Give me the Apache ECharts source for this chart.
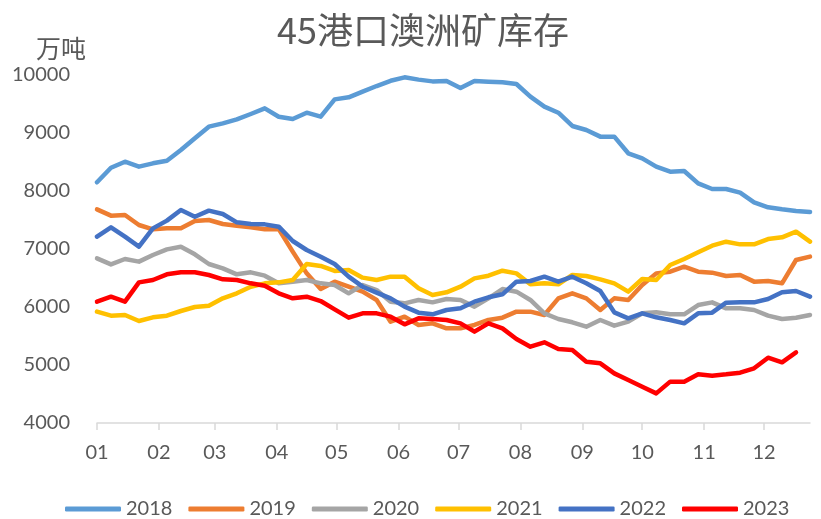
<!DOCTYPE html>
<html>
<head>
<meta charset="utf-8">
<script src="https://cdn.jsdelivr.net/npm/echarts@6/dist/echarts.min.js"></script>
<style>
html,body{margin:0;padding:0;background:#fff;}
#chart{width:821px;height:519px;}
</style>
</head>
<body>
<div id="chart"></div>
<script>
// Weekly dates (common calendar year, non-leap)
const weekDates = [
  '2001-01-01','2001-01-08','2001-01-15','2001-01-22','2001-01-29',
  '2001-02-05','2001-02-12','2001-02-19','2001-02-26',
  '2001-03-05','2001-03-12','2001-03-19','2001-03-26',
  '2001-04-02','2001-04-09','2001-04-16','2001-04-23','2001-04-30',
  '2001-05-07','2001-05-14','2001-05-21','2001-05-28',
  '2001-06-04','2001-06-11','2001-06-18','2001-06-25',
  '2001-07-02','2001-07-09','2001-07-16','2001-07-23','2001-07-30',
  '2001-08-06','2001-08-13','2001-08-20','2001-08-27',
  '2001-09-03','2001-09-10','2001-09-17','2001-09-24',
  '2001-10-01','2001-10-08','2001-10-15','2001-10-22','2001-10-29',
  '2001-11-05','2001-11-12','2001-11-19','2001-11-26',
  '2001-12-03','2001-12-10','2001-12-17','2001-12-24'
];
const monthLabels = ['01','02','03','04','05','06','07','08','09','10','11','12'];
const yTicks = [4000,5000,6000,7000,8000,9000,10000];

const seriesNames = ['2018','2019','2020','2021','2022','2023'];
const y2018 = [8150,8400,8505,8420,8477,8523,8707,8908,9109,9166,9235,9328,9425,
  9281,9241,9350,9281,9580,9615,9713,9810,9900,9960,9920,9890,9897,
  9775,9897,9885,9874,9845,9626,9454,9350,9121,9052,8937,8937,8650,
  8563,8420,8333,8345,8132,8034,8034,7971,7805,7719,7684,7655,7638];
const y2019 = [7684,7575,7586,7414,7339,7356,7356,7483,7500,7431,7402,7374,7339,
  7345,6954,6580,6310,6437,6350,6264,6121,5747,5833,5690,5718,5632,
  5632,5690,5776,5816,5920,5920,5862,6149,6236,6149,5948,6149,6121,
  6379,6580,6609,6695,6609,6592,6534,6552,6437,6448,6408,6810,6868];
const y2020 = [6839,6735,6828,6782,6897,6994,7040,6908,6741,6667,6563,6598,6540,
  6408,6437,6466,6408,6379,6236,6379,6293,6092,6063,6121,6080,6138,
  6121,6006,6149,6310,6264,6121,5891,5793,5736,5661,5776,5678,5747,
  5891,5908,5874,5874,6034,6080,5977,5977,5948,5851,5793,5816,5862];
const y2021 = [5920,5851,5862,5759,5822,5851,5931,6000,6023,6149,6236,6350,6408,
  6425,6466,6741,6707,6621,6638,6506,6466,6523,6523,6322,6207,6253,
  6350,6494,6540,6626,6580,6391,6408,6391,6552,6534,6477,6408,6264,
  6483,6466,6724,6828,6943,7057,7126,7080,7080,7172,7201,7299,7126];
const y2022 = [7213,7374,7213,7040,7356,7489,7672,7557,7661,7603,7460,7431,7425,
  7385,7138,6983,6868,6741,6523,6350,6247,6149,6006,5902,5874,5948,
  5977,6092,6167,6219,6437,6448,6523,6437,6523,6408,6276,5908,5805,
  5891,5822,5776,5718,5891,5902,6075,6080,6080,6138,6253,6276,6178];
const y2023 = [6092,6178,6092,6425,6466,6563,6598,6598,6552,6477,6466,6408,6368,
  6236,6149,6178,6103,5960,5816,5891,5891,5833,5701,5805,5793,5776,
  5718,5575,5718,5632,5448,5316,5391,5276,5259,5057,5029,4856,4741,
  4626,4511,4713,4713,4839,4816,4839,4868,4943,5126,5046,5218];
const seriesValues = [y2018,y2019,y2020,y2021,y2022,y2023];
const colors = ['#5B9BD5','#ED7D31','#A5A5A5','#FFC000','#4472C4','#FF0000'];

const FONT = 'Lato';
const TXT = '#595959';
const DAY = 24 * 3600 * 1000;
const parse = (s) => +echarts.time.parse(s);

const chart = echarts.init(document.getElementById('chart'), null, {renderer:'canvas'});
chart.setOption({
  animation: false,
  backgroundColor: '#fff',
  color: colors,
  title: [
    {text: '45港口澳洲矿库存', left: 418, top: 7, textAlign: 'center',
     textStyle: {fontFamily: '"Noto Sans CJK SC"', fontSize: 36, fontWeight: 'normal', color: TXT}},
    {text: '万吨', left: 31, top: 31,
     textStyle: {fontFamily: '"Noto Sans CJK SC"', fontSize: 25, fontWeight: 'normal', color: TXT}}
  ],
  legend: {
    left: 60, top: 494,
    icon: 'roundRect',
    itemWidth: 56, itemHeight: 5, itemGap: 16,
    textStyle: {fontFamily: FONT, fontSize: 20, color: TXT},
    data: seriesNames
  },
  grid: {left: 97, right: 11, top: 75, bottom: 96, containLabel: false},
  xAxis: {
    type: 'time',
    min: parse(weekDates[0]),
    max: parse(weekDates[weekDates.length - 1]),
    splitNumber: 12,
    minInterval: 28 * DAY,
    maxInterval: 31 * DAY,
    axisLine: {show: true, lineStyle: {color: '#D9D9D9', width: 1.5}},
    axisTick: {show: true, length: 7, lineStyle: {color: '#D9D9D9', width: 1.5}},
    axisLabel: {
      margin: 20,
      showMaxLabel: false,
      fontFamily: FONT, fontSize: 20, color: TXT, fontWeight: 'normal',
      hideOverlap: false,
      formatter: function (v) {
        const d = new Date(v);
        return d.getDate() === 1 ? monthLabels[d.getMonth()] : '';
      }
    },
    splitLine: {show: false}
  },
  yAxis: {
    type: 'value',
    min: yTicks[0], max: yTicks[yTicks.length - 1], interval: 1000,
    axisLine: {show: false}, axisTick: {show: false}, splitLine: {show: false},
    axisLabel: {margin: 27, fontFamily: FONT, fontSize: 20, color: TXT,
      formatter: function (v) { return String(v); }}
  },
  series: seriesNames.map((name, k) => ({
    name: name,
    type: 'line',
    showSymbol: false,
    symbol: 'none',
    lineStyle: {width: 4.5, color: colors[k], cap: 'round', join: 'round'},
    itemStyle: {color: colors[k]},
    data: seriesValues[k].map((v, i) => [parse(weekDates[i]), v])
  }))
});
</script>
</body>
</html>
